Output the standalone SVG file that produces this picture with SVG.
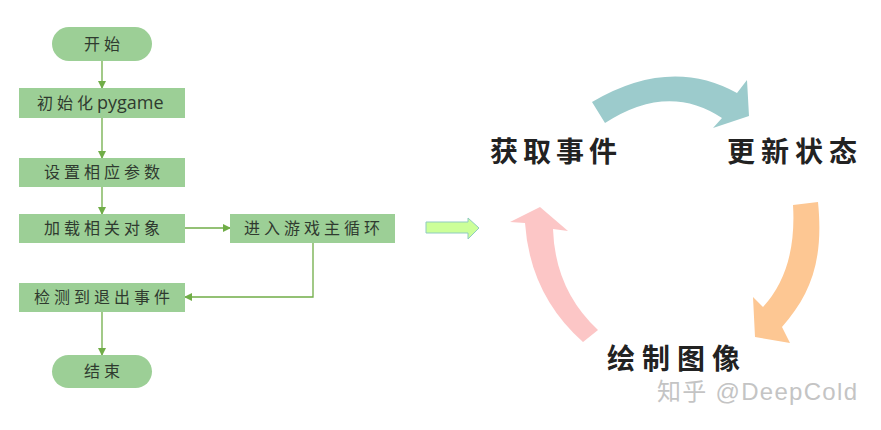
<svg xmlns="http://www.w3.org/2000/svg" width="881" height="430" viewBox="0 0 881 430">
<defs>
<style>
.box{fill:#9ccf96;}
.lbl{font-family:"Noto Sans CJK SC","Noto Sans",sans-serif;font-size:16px;fill:#2f3a2f;letter-spacing:4px;}
.big{font-family:"Noto Sans CJK SC",sans-serif;font-size:28px;font-weight:bold;fill:#222;}
.conn{fill:none;stroke:#70ad47;stroke-width:1.3;}
</style>
<marker id="ah" markerWidth="8" markerHeight="8" refX="7" refY="4" orient="auto" markerUnits="userSpaceOnUse">
<path d="M0,0 L8,4 L0,8 Z" fill="#70ad47"/>
</marker>
</defs>
<rect width="881" height="430" fill="#ffffff"/>

<g id="connectors">
<line class="conn" x1="102" y1="61" x2="102" y2="88" marker-end="url(#ah)"/>
<line class="conn" x1="102" y1="118" x2="102" y2="158" marker-end="url(#ah)"/>
<line class="conn" x1="102" y1="187" x2="102" y2="214" marker-end="url(#ah)"/>
<line class="conn" x1="185" y1="228" x2="230" y2="228" marker-end="url(#ah)"/>
<polyline class="conn" points="313,243 313,297 185,297" marker-end="url(#ah)"/>
<line class="conn" x1="102" y1="312" x2="102" y2="355" marker-end="url(#ah)"/>
</g>

<g id="start">
<rect class="box" x="52" y="27" width="100" height="34" rx="17"/>
<text class="lbl" x="104" y="50" text-anchor="middle">开始</text>
</g>
<g id="init">
<rect class="box" x="19" y="88" width="166" height="30"/>
<text class="lbl" x="37" y="109">初始化<tspan style="letter-spacing:0;font-family:'Open Sans','Noto Sans',sans-serif;font-size:18px">pygame</tspan></text>
</g>
<g id="params">
<rect class="box" x="19" y="158" width="166" height="29"/>
<text class="lbl" x="104" y="178" text-anchor="middle">设置相应参数</text>
</g>
<g id="load">
<rect class="box" x="19" y="214" width="166" height="29"/>
<text class="lbl" x="104" y="234" text-anchor="middle">加载相关对象</text>
</g>
<g id="mainloop">
<rect class="box" x="230" y="214" width="165" height="29"/>
<text class="lbl" x="314" y="234" text-anchor="middle">进入游戏主循环</text>
</g>
<g id="quit">
<rect class="box" x="19" y="283" width="166" height="29"/>
<text class="lbl" x="104" y="303" text-anchor="middle">检测到退出事件</text>
</g>
<g id="end">
<rect class="box" x="52" y="355" width="100" height="33" rx="16.5"/>
<text class="lbl" x="104" y="377" text-anchor="middle">结束</text>
</g>

<g id="block-arrow">
<path d="M426,222 L468,222 L468,218 L479,228 L468,239 L468,233 L426,233 Z" fill="#ccff99" stroke="#8fcbc0" stroke-width="1"/>
</g>

<g id="cycle">
<path id="arrow-teal" d="M592,102 Q670,56 737,93 L747,80 L749,116 L713,128 L722,118 Q668,82 605,123 Z" fill="#9ccbcc"/>
<path id="arrow-orange" d="M793,205 Q797,270 763,307 L753,297 L755,337 L790,343 L782,327 C810,295 824,262 818,202 Z" fill="#fdc793"/>
<path id="arrow-pink" d="M583,342 Q530,295 525,223 L510,222 L540,207 L568,231 L553,229 Q555,290 598,330 Z" fill="#fcc6c6"/>
</g>

<g id="get-events"><text class="big" x="490" y="162" letter-spacing="5">获取事件</text></g>
<g id="update-state"><text class="big" x="727" y="162" letter-spacing="6">更新状态</text></g>
<g id="draw-image"><text class="big" x="607" y="369" letter-spacing="7">绘制图像</text></g>

<text x="657" y="400" font-family="'Liberation Sans','Noto Sans CJK SC',sans-serif" font-size="24" fill="#c4c4c4" textLength="200" lengthAdjust="spacing">知乎 @DeepCold</text>
</svg>
